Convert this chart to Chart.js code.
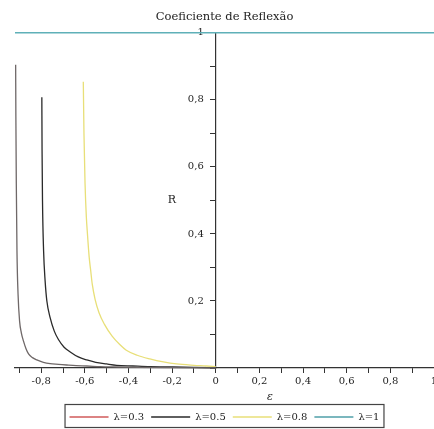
<!DOCTYPE html>
<html>
<head>
<meta charset="utf-8">
<script src="https://cdn.jsdelivr.net/npm/chart.js@4"></script>
<style>
  html, body { margin: 0; padding: 0; background: #fff; }
  #wrap { width: 434px; height: 429px; }
</style>
</head>
<body>
<div id="wrap"><canvas id="chart" width="434" height="429"></canvas></div>
<script>
// Data
const labels = ['λ=0.3', 'λ=0.5', 'λ=0.8', 'λ=1'];
const eps03 = [-0.917, -0.916, -0.914, -0.911, -0.906, -0.899, -0.891, -0.881, -0.870, -0.858, -0.840, -0.820, -0.790, -0.759, -0.720, -0.683, -0.640, -0.591, -0.53, -0.45, -0.35, -0.2, 0];
const r03 = [0.905, 0.75, 0.55, 0.35, 0.22, 0.14, 0.105, 0.08, 0.058, 0.042, 0.031, 0.024, 0.017, 0.013, 0.011, 0.009, 0.007, 0.006, 0.004, 0.003, 0.002, 0.001, 0];
const eps05 = [-0.797, -0.796, -0.794, -0.789, -0.782, -0.774, -0.759, -0.740, -0.721, -0.695, -0.667, -0.630, -0.591, -0.55, -0.5, -0.454, -0.38, -0.3, -0.197, -0.1, 0];
const r05 = [0.808, 0.65, 0.50, 0.35, 0.26, 0.2, 0.15, 0.11, 0.085, 0.062, 0.048, 0.033, 0.024, 0.017, 0.012, 0.008, 0.006, 0.004, 0.003, 0.002, 0.001];
const eps08 = [-0.607, -0.604, -0.599, -0.593, -0.588, -0.580, -0.573, -0.566, -0.553, -0.535, -0.51, -0.475, -0.44, -0.41, -0.36, -0.302, -0.24, -0.18, -0.1, -0.043, 0];
const r08 = [0.854, 0.70, 0.55, 0.45, 0.40, 0.33, 0.29, 0.25, 0.205, 0.165, 0.13, 0.095, 0.07, 0.053, 0.038, 0.027, 0.018, 0.012, 0.008, 0.006, 0.004];
const eps1 = [-0.92, 1.0];
const r1 = [1, 1];
const yTicks = [0.2, 0.4, 0.6, 0.8, 1];

const lineColors = ['#6f6868', '#2a2a2a', '#e8df78', '#5fb0b8'];
const legendColors = ['#d05a5a', '#2a2a2a', '#e8df78', '#4f9fa8'];

const pts = (xs, ys) => xs.map((x, i) => ({ x, y: ys[i] }));
const series = [pts(eps03, r03), pts(eps05, r05), pts(eps08, r08), pts(eps1, r1)];

const fmt = v => {
    const r = Math.round(v * 10) / 10;
    if (Math.abs(Math.round(r * 10)) % 2 !== 0) return '';
    return String(r).replace('.', ',');
};

// Extra texts + box around legend
const extras = {
    id: 'extras',
    afterDraw(chart) {
        const { ctx, legend } = chart;
        ctx.save();
        ctx.fillStyle = '#222';
        ctx.font = '11px "DejaVu Serif"';
        ctx.textAlign = 'center';
        ctx.textBaseline = 'middle';
        ctx.fillText('R', 172, 200);
        ctx.font = 'italic 11px "DejaVu Serif"';
        ctx.fillText('ε', 270, 397);
        const boxes = legend.legendHitBoxes;
        if (boxes.length) {
            const l = Math.min(...boxes.map(b => b.left)) - 5;
            const r = Math.max(...boxes.map(b => b.left + b.width)) + 4;
            ctx.strokeStyle = '#444';
            ctx.lineWidth = 1.2;
            ctx.strokeRect(l + 0.5, 404.5, r - l, 23);
        }
        ctx.restore();
    }
};

new Chart(document.getElementById('chart'), {
    type: 'scatter',
    data: {
        datasets: series.map((d, i) => ({
            label: labels[i],
            data: d,
            showLine: true,
            borderColor: lineColors[i],
            backgroundColor: lineColors[i],
            borderWidth: i === 3 ? 1.6 : 1.3,
            pointRadius: 0,
            cubicInterpolationMode: 'monotone',
            clip: false
        }))
    },
    options: {
        responsive: false,
        animation: false,
        layout: { padding: { left: 15, right: 0, top: 4, bottom: -3 } },
        scales: {
            x: {
                type: 'linear',
                position: 'bottom',
                min: -0.92,
                max: 1.0,
                border: { color: '#333', width: 1.2 },
                grid: { drawOnChartArea: false, tickLength: 5, color: '#333' },
                ticks: {
                    stepSize: 0.1,
                    includeBounds: false,
                    autoSkip: false,
                    maxRotation: 0,
                    padding: 2,
                    color: '#222',
                    font: { family: 'DejaVu Serif', size: 10 },
                    callback: v => fmt(v)
                },
                afterFit: s => { s.paddingLeft = 0; s.paddingRight = 0; s.height = 37; }
            },
            y: {
                type: 'linear',
                position: { x: 0 },
                min: 0,
                max: 1,
                border: { color: '#333', width: 1.2 },
                grid: { drawOnChartArea: false, tickLength: 5, color: '#333' },
                ticks: {
                    stepSize: 0.1,
                    autoSkip: false,
                    color: '#222',
                    font: { family: 'DejaVu Serif', size: 10 },
                    // the axis sits in the middle: push labels left of the tick marks
                    callback: v => (yTicks.some(t => Math.abs(t - v) < 1e-6) ? fmt(v) + '\u2003\u2009' : '')
                },
                afterFit: s => { s.paddingTop = 0; s.paddingBottom = 0; }
            }
        },
        plugins: {
            title: {
                display: true,
                text: 'Coeficiente de Reflexão',
                color: '#222',
                font: { family: 'DejaVu Serif', size: 11.5, weight: 'normal' },
                padding: { top: 6, bottom: 9 }
            },
            legend: {
                position: 'bottom',
                labels: {
                    usePointStyle: true,
                    pointStyle: 'line',
                    pointStyleWidth: 39,
                    padding: 7,
                    color: '#222',
                    font: { family: 'DejaVu Serif', size: 10 },
                    generateLabels: chart => chart.data.datasets.map((ds, i) => ({
                        text: ds.label,
                        strokeStyle: legendColors[i],
                        fillStyle: legendColors[i],
                        lineWidth: 1.3,
                        pointStyle: 'line',
                        datasetIndex: i,
                        fontColor: '#222'
                    }))
                }
            },
            tooltip: { enabled: false }
        }
    },
    plugins: [extras]
});
</script>
</body>
</html>
